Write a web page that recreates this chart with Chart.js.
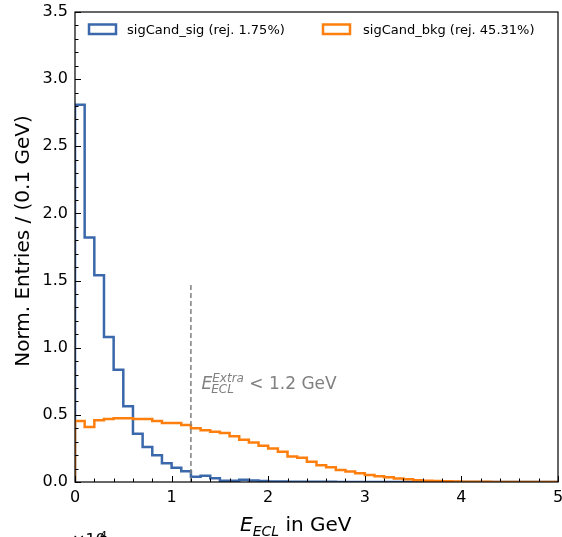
<!DOCTYPE html>
<html><head><meta charset="utf-8">
<script src="https://cdn.jsdelivr.net/npm/chart.js@4/dist/chart.umd.min.js"></script>
<style>html,body{margin:0;padding:0;background:#fff;overflow:hidden}#wrap{width:562px;height:537px;position:relative}</style>
</head><body><div id="wrap"><canvas id="c" width="562" height="537"></canvas></div>
<script>
// ---- data ----
const binWidth = 0.1;
const binCount = 50;
const sigValues = [2.81,1.82,1.54,1.08,0.835,0.565,0.36,0.26,0.20,0.14,
                   0.107,0.08,0.04,0.046,0.027,0.01,0.01,0.017,0.012,0.008,
                   0.004,0.003,0.002,0.002,0.001,0.001,0.001,0,0,0,
                   0,0,0,0,0,0,0,0,0,0, 0,0,0,0,0,0,0,0,0,0];
const bkgValues = [0.455,0.41,0.46,0.47,0.475,0.475,0.47,0.47,0.455,0.44,
                   0.44,0.425,0.40,0.385,0.375,0.365,0.34,0.315,0.295,0.27,
                   0.25,0.226,0.19,0.18,0.15,0.125,0.11,0.09,0.078,0.065,
                   0.052,0.042,0.035,0.026,0.02,0.013,0.009,0.007,0.005,0.003,
                   0.002,0.001,0.001,0,0,0,0,0,0,0];
const seriesLabels = ['sigCand_sig (rej. 1.75%)', 'sigCand_bkg (rej. 45.31%)'];
const seriesColors = ['#3a68aa', '#ff7f0e'];
const xTickLabels = ['0','1','2','3','4','5'];
const yTickLabels = ['0.0','0.5','1.0','1.5','2.0','2.5','3.0','3.5'];
const cutValue = 1.2;
const cutLineTop = 1.48;

function stepPoints(vals){
  const pts = [{x:0, y:0}];
  vals.forEach((v,i) => pts.push({x: +(i*binWidth).toFixed(2), y: v}));
  pts.push({x: +(binCount*binWidth).toFixed(2), y: vals[vals.length-1]});
  pts.push({x: +(binCount*binWidth).toFixed(2), y: 0});
  return pts;
}

const FONT = "'DejaVu Sans', sans-serif";

const decor = {
  id: 'decor',
  afterDraw(chart){
    const ctx = chart.ctx, a = chart.chartArea;
    const xs = chart.scales.x, ys = chart.scales.y;
    ctx.save();
    // frame
    ctx.strokeStyle = '#000'; ctx.lineWidth = 1.2;
    ctx.strokeRect(a.left, a.top, a.right - a.left, a.bottom - a.top);
    // inward ticks
    ctx.lineWidth = 1;
    ctx.beginPath();
    for (let i = 0; i <= 25; i++){
      const v = i * 0.2; const px = Math.round(xs.getPixelForValue(v)) + 0.5;
      const len = (i % 5 === 0) ? 6 : 3.5;
      ctx.moveTo(px, a.bottom); ctx.lineTo(px, a.bottom - len);
    }
    for (let i = 0; i <= 35; i++){
      const v = i * 0.1; const py = Math.round(ys.getPixelForValue(v)) + 0.5;
      const len = (i % 5 === 0) ? 6 : 3.5;
      ctx.moveTo(a.left, py); ctx.lineTo(a.left + len, py);
    }
    ctx.stroke();
    // x title
    ctx.fillStyle = '#000'; ctx.textBaseline = 'alphabetic'; ctx.textAlign = 'left';
    let x = 240;
    ctx.font = 'italic 20px ' + FONT; ctx.fillText('E', x, 531); x += ctx.measureText('E').width;
    ctx.font = 'italic 14px ' + FONT; ctx.fillText('ECL', x, 536); x += ctx.measureText('ECL').width;
    ctx.font = '20px ' + FONT; ctx.fillText(' in GeV', x, 531);
    // y title
    ctx.save();
    ctx.translate(29, 241); ctx.rotate(-Math.PI/2);
    ctx.textAlign = 'center'; ctx.font = '20px ' + FONT;
    ctx.fillText('Norm. Entries / (0.1 GeV)', 0, 0);
    ctx.restore();
    // offset text (cut off by the page edge)
    ctx.font = '16px ' + FONT; ctx.textAlign = 'left';
    ctx.fillText('\u00d710', 72, 545);
    ctx.font = '11px ' + FONT; ctx.fillText('4', 100, 538.5);
    // annotation
    ctx.fillStyle = '#808080';
    x = 201.5;
    ctx.font = 'italic 17px ' + FONT; ctx.fillText('E', x, 388.5);
    const ew = ctx.measureText('E').width;
    ctx.font = 'italic 12px ' + FONT;
    ctx.fillText('Extra', x + ew, 381.5);
    const w1 = ctx.measureText('Extra').width;
    ctx.fillText('ECL', x + ew - 1, 393);
    ctx.font = '17px ' + FONT;
    ctx.fillText(' < 1.2 GeV', x + ew + w1, 388.5);
    // legend
    const legendPos = [{bx: 89, tx: 127}, {bx: 323, tx: 363}];
    legendPos.forEach((p, i) => {
      ctx.strokeStyle = seriesColors[i]; ctx.lineWidth = 2.5;
      ctx.strokeRect(p.bx, 24.5, 27, 9.5);
      ctx.fillStyle = '#000'; ctx.font = '13px ' + FONT;
      ctx.fillText(seriesLabels[i], p.tx, 34);
    });
    ctx.restore();
  }
};

new Chart(document.getElementById('c'), {
  type: 'line',
  data: {
    datasets: [
      { label: 'cut', data: [{x: cutValue, y: 0}, {x: cutValue, y: cutLineTop}],
        borderColor: '#808080', borderWidth: 1.5, borderDash: [5, 3], pointRadius: 0, order: 0 },
      { label: seriesLabels[1], data: stepPoints(bkgValues), stepped: 'before',
        borderColor: seriesColors[1], borderWidth: 2.5, pointRadius: 0, fill: false, order: 1 },
      { label: seriesLabels[0], data: stepPoints(sigValues), stepped: 'before',
        borderColor: seriesColors[0], borderWidth: 2.5, pointRadius: 0, fill: false, order: 2 }
    ]
  },
  options: {
    responsive: false, animation: false, devicePixelRatio: 1,
    layout: { padding: { left: 0, right: 4, top: 12, bottom: 0 } },
    plugins: { legend: { display: false }, tooltip: { enabled: false } },
    scales: {
      x: {
        type: 'linear', min: 0, max: 5,
        grid: { display: false, drawTicks: false }, border: { display: false },
        ticks: { stepSize: 1, autoSkip: false, maxRotation: 0, padding: 6, color: '#000',
                 font: { family: FONT, size: 16 },
                 callback: (v) => xTickLabels[Math.round(v)] ?? '' },
        afterFit(s){ s.height = 55; s.paddingLeft = 0; s.paddingRight = 0; }
      },
      y: {
        type: 'linear', min: 0, max: 3.5,
        grid: { display: false, drawTicks: false }, border: { display: false },
        ticks: { stepSize: 0.5, autoSkip: false, padding: 7, color: '#000',
                 font: { family: FONT, size: 16 },
                 callback: (v) => yTickLabels[Math.round(v * 2)] ?? '' },
        afterFit(s){ s.width = 75; s.paddingTop = 0; s.paddingBottom = 0; }
      }
    }
  },
  plugins: [decor]
});
</script></body></html>
